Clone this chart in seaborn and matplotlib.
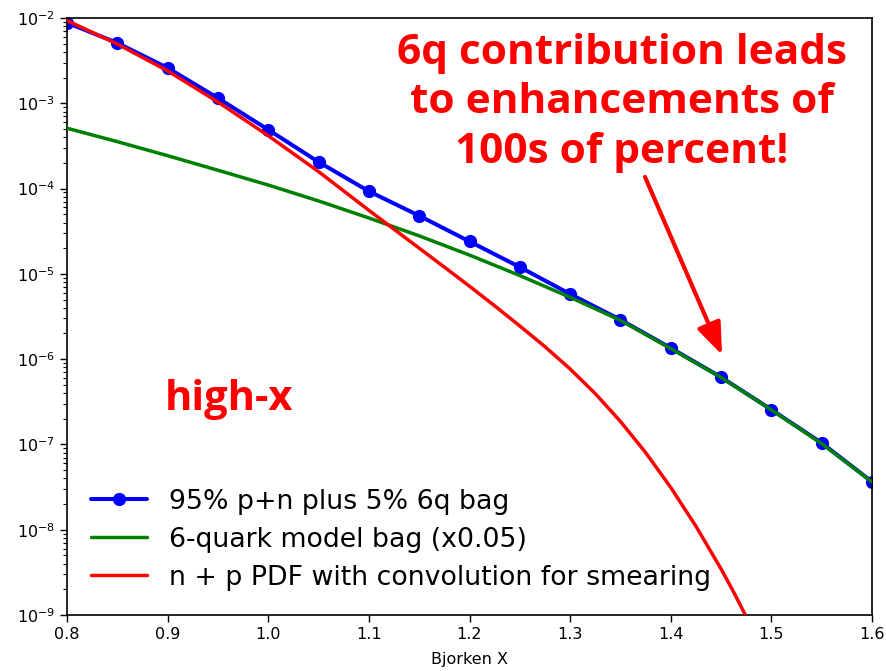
import matplotlib
matplotlib.use("Agg")
import matplotlib.pyplot as plt
import seaborn as sns

# ---------------- data ----------------
x_blue = [0.80, 0.85, 0.90, 0.95, 1.00, 1.05, 1.10, 1.15, 1.20, 1.25,
          1.30, 1.35, 1.40, 1.45, 1.50, 1.55, 1.60]
y_blue = [8.8e-3, 5.1e-3, 2.6e-3, 1.15e-3, 4.9e-4, 2.05e-4, 9.3e-5, 4.8e-5,
          2.4e-5, 1.2e-5, 5.8e-6, 2.9e-6, 1.35e-6, 6.15e-7, 2.56e-7, 1.04e-7, 3.65e-8]

x_green = [0.80, 0.85, 0.90, 0.95, 1.00, 1.05, 1.10, 1.15, 1.20, 1.25,
           1.30, 1.35, 1.40, 1.45, 1.50, 1.55, 1.60]
y_green = [5.1e-4, 3.55e-4, 2.43e-4, 1.64e-4, 1.10e-4, 7.16e-5, 4.52e-5, 2.79e-5,
           1.66e-5, 9.55e-6, 5.31e-6, 2.85e-6, 1.33e-6, 6.1e-7, 2.54e-7, 1.02e-7, 3.63e-8]

x_red = [0.80, 0.85, 0.90, 0.95, 1.00, 1.05, 1.10, 1.15, 1.175, 1.20, 1.225,
         1.25, 1.275, 1.30, 1.325, 1.35, 1.375, 1.40, 1.425, 1.45, 1.4625,
         1.475, 1.50]
y_red = [9.33e-3, 4.95e-3, 2.40e-3, 1.035e-3, 4.17e-4, 1.58e-4, 5.56e-5, 2.0e-5,
         1.20e-5, 7.16e-6, 4.22e-6, 2.45e-6, 1.40e-6, 7.67e-7, 3.94e-7, 1.86e-7,
         8.04e-8, 3.13e-8, 1.10e-8, 3.47e-9, 1.86e-9, 9.55e-10, 2.24e-10]

labels = ["95% p+n plus 5% 6q bag",
          "6-quark model bag (x0.05)",
          "n + p PDF with convolution for smearing"]
x_ticks = [0.8, 0.9, 1.0, 1.1, 1.2, 1.3, 1.4, 1.5, 1.6]
annotation = "6q contribution leads\nto enhancements of\n100s of percent!"
side_label = "high-x"
x_label = "Bjorken X"

# ---------------- figure ----------------
sns.set_style("ticks")
plt.rcParams["font.family"] = ["DejaVu Sans"]
for k in ["axes.edgecolor", "xtick.color", "ytick.color", "text.color",
          "axes.labelcolor"]:
    plt.rcParams[k] = "black"

W, H = 887, 671
fig = plt.figure(figsize=(W / 100, H / 100), dpi=100)
ax = fig.add_axes([67 / W, 1 - 615 / H, 805 / W, 597 / H])

sns.lineplot(x=x_blue, y=y_blue, ax=ax, color="b", lw=2.9, marker="o",
             markersize=8.5, markeredgecolor="b", markeredgewidth=1,
             label=labels[0], estimator=None, sort=False, zorder=2)
sns.lineplot(x=x_green, y=y_green, ax=ax, color="g", lw=2.5,
             label=labels[1], estimator=None, sort=False, zorder=3)
sns.lineplot(x=x_red, y=y_red, ax=ax, color="r", lw=2.5,
             label=labels[2], estimator=None, sort=False, zorder=4)

ax.set_yscale("log")
ax.set_xlim(0.8, 1.6)
ax.set_ylim(1e-9, 1e-2)
ax.set_xticks(x_ticks)
ax.set_xticklabels([f"{v:.1f}" for v in x_ticks])
ax.tick_params(axis="both", which="major", labelsize=11.5, length=5, width=1)
ax.tick_params(axis="y", which="minor", length=3, width=0.8)
ax.set_xlabel(x_label, fontsize=11.5, labelpad=7)
ax.set_ylabel("")
for s in ax.spines.values():
    s.set_linewidth(1.2)
    s.set_visible(True)

leg = ax.legend(loc="lower left", frameon=False, fontsize=19.3,
                handlelength=2.1, labelspacing=0.45)

# annotation arrow
ax.annotate("", xy=(1.451, 1.12e-6), xytext=(1.3744, 1.37e-4),
            arrowprops=dict(arrowstyle="-|>,head_length=0.65,head_width=0.25",
                            color="red", lw=3, mutation_scale=30,
                            shrinkA=0, shrinkB=0), zorder=6)

fig.text(622 / W, 1 - 163 / H, annotation, color="red", fontsize=30.5,
         fontweight="bold", family=["Open Sans", "DejaVu Sans"],
         ha="center", va="baseline", linespacing=1.28)
fig.text(165 / W, 1 - 410 / H, side_label, color="red", fontsize=30,
         fontweight="bold", family=["Open Sans", "DejaVu Sans"],
         ha="left", va="baseline")

fig.savefig("out.png", dpi=100)
